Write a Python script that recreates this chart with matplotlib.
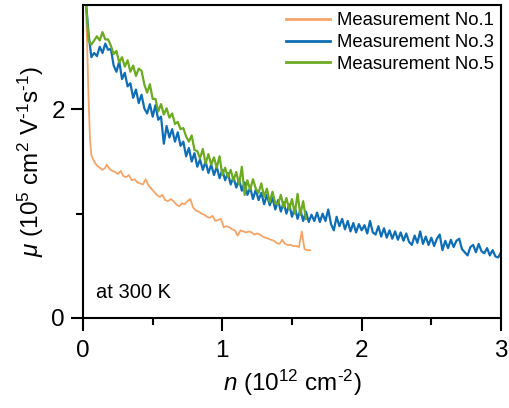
import numpy as np
import matplotlib
matplotlib.use("Agg")
import matplotlib.pyplot as plt
from matplotlib.ticker import FixedLocator

plt.rcParams['font.family'] = ['Liberation Sans', 'DejaVu Sans']
plt.rcParams['mathtext.fontset'] = 'custom'
plt.rcParams['mathtext.rm'] = 'Liberation Sans'
plt.rcParams['mathtext.it'] = 'Liberation Sans:italic'

# ---- data ----
labels = ["Measurement No.1", "Measurement No.3", "Measurement No.5"]
colors = ["#F5A467", "#0E6EB5", "#6CAA22"]

# Measurement No.1 (orange)
n1 = [0.02, 0.03, 0.04, 0.05, 0.06, 0.08, 0.10, 0.12, 0.14, 0.16, 0.17, 0.19,
      0.21, 0.23, 0.25, 0.27, 0.29, 0.31, 0.33, 0.35, 0.37, 0.39, 0.41, 0.43,
      0.45, 0.47, 0.49, 0.51, 0.53, 0.55, 0.57, 0.59, 0.61, 0.63, 0.65, 0.67,
      0.69, 0.71, 0.73, 0.75, 0.77, 0.79, 0.81, 0.83, 0.85, 0.87, 0.89, 0.91,
      0.93, 0.95, 0.97, 0.99, 1.01, 1.03, 1.05, 1.07, 1.09, 1.11, 1.13, 1.15,
      1.17, 1.19, 1.21, 1.23, 1.25, 1.27, 1.29, 1.31, 1.33, 1.35, 1.37, 1.39,
      1.41, 1.43, 1.45, 1.47, 1.49, 1.51, 1.53, 1.55, 1.57, 1.59, 1.61, 1.63]
mu1 = [3.05, 2.60, 2.10, 1.72, 1.56, 1.50, 1.46, 1.44, 1.42, 1.44, 1.47, 1.43,
       1.41, 1.40, 1.38, 1.41, 1.36, 1.35, 1.37, 1.32, 1.33, 1.30, 1.29, 1.28,
       1.33, 1.27, 1.24, 1.21, 1.18, 1.16, 1.18, 1.13, 1.12, 1.14, 1.12, 1.09,
       1.07, 1.10, 1.09, 1.12, 1.14, 1.06, 1.03, 1.02, 1.00, 0.99, 0.97, 0.96,
       0.98, 0.93, 0.94, 0.95, 0.87, 0.88, 0.87, 0.85, 0.84, 0.79, 0.84, 0.83,
       0.82, 0.83, 0.82, 0.80, 0.81, 0.80, 0.78, 0.77, 0.76, 0.75, 0.74, 0.72,
       0.71, 0.75, 0.71, 0.70, 0.70, 0.69, 0.69, 0.68, 0.83, 0.66, 0.65, 0.65]

# Measurement No.3 (blue), sampled every 0.02 from 0.02 to 3.00
n3_start, n3_stop = 0.02, 3.00
mu3 = [3.05, 2.72, 2.50, 2.54, 2.51, 2.60, 2.54, 2.63, 2.57, 2.58,
       2.42, 2.36, 2.46, 2.29, 2.35, 2.22, 2.25, 2.11, 2.19, 2.06,
       2.14, 2.01, 1.96, 2.05, 1.93, 2.04, 1.90, 1.93, 1.67, 1.84,
       1.73, 1.81, 1.69, 1.78, 1.65, 1.69, 1.55, 1.63, 1.50, 1.58,
       1.45, 1.52, 1.42, 1.50, 1.39, 1.47, 1.37, 1.45, 1.34, 1.42,
       1.32, 1.39, 1.28, 1.35, 1.25, 1.33, 1.22, 1.30, 1.18, 1.25,
       1.14, 1.23, 1.13, 1.20, 1.09, 1.18, 1.08, 1.15, 1.04, 1.13,
       1.02, 1.11, 1.00, 1.09, 0.97, 1.06, 0.95, 1.04, 0.93, 1.02,
       0.92, 0.99, 0.93, 1.01, 0.92, 1.00, 0.93, 1.04, 0.90, 0.84,
       0.97, 0.88, 0.95, 0.85, 0.93, 0.83, 0.91, 0.82, 0.90, 0.84,
       0.89, 0.81, 0.93, 0.82, 0.80, 0.88, 0.78, 0.86, 0.77, 0.84,
       0.76, 0.83, 0.75, 0.82, 0.74, 0.81, 0.73, 0.70, 0.79, 0.72,
       0.83, 0.71, 0.78, 0.70, 0.77, 0.69, 0.76, 0.80, 0.65, 0.74,
       0.67, 0.75, 0.68, 0.74, 0.76, 0.66, 0.63, 0.60, 0.68, 0.70,
       0.63, 0.71, 0.64, 0.62, 0.67, 0.60, 0.65, 0.59, 0.58, 0.63]

# Measurement No.5 (green), sampled every 0.02 from 0.02 to 1.60
n5_start, n5_stop = 0.02, 1.60
mu5 = [3.05, 2.66, 2.62, 2.66, 2.70, 2.66, 2.74, 2.67, 2.67, 2.61,
       2.53, 2.56, 2.45, 2.50, 2.41, 2.47, 2.36, 2.42, 2.32, 2.39,
       2.37, 2.24, 2.16, 2.24, 2.10, 2.10, 1.98, 2.05, 1.95, 2.01,
       1.92, 1.96, 1.86, 1.88, 1.81, 1.82, 1.74, 1.69, 1.75, 1.61,
       1.60, 1.53, 1.62, 1.48, 1.57, 1.47, 1.54, 1.44, 1.55, 1.37,
       1.44, 1.35, 1.42, 1.32, 1.40, 1.28, 1.45, 1.18, 1.32, 1.23,
       1.33, 1.24, 1.20, 1.29, 1.16, 1.24, 1.11, 1.21, 1.10, 1.09,
       1.18, 1.06, 1.15, 1.04, 1.14, 1.00, 1.19, 0.99, 1.12, 0.95]

n3 = np.linspace(n3_start, n3_stop, len(mu3))
n5 = np.linspace(n5_start, n5_stop, len(mu5))

x_major = [0, 1, 2, 3]
x_minor = [0.5, 1.5, 2.5]
y_major = [0, 2]
y_minor = [1]

# ---- figure ----
fig = plt.figure(figsize=(5.09, 4.08), dpi=100)
ax = fig.add_axes([83/509, 1-318/408, (501-83)/509, (318-5)/408])

ax.plot(n1, mu1, color=colors[0], lw=1.3, label=labels[0])
ax.plot(n3, mu3, color=colors[1], lw=1.6, label=labels[1])
ax.plot(n5, mu5, color=colors[2], lw=1.6, label=labels[2])

ax.set_xlim(0, 3)
ax.set_ylim(0, 3)
ax.xaxis.set_major_locator(FixedLocator(x_major))
ax.xaxis.set_minor_locator(FixedLocator(x_minor))
ax.yaxis.set_major_locator(FixedLocator(y_major))
ax.yaxis.set_minor_locator(FixedLocator(y_minor))
ax.tick_params(which='major', direction='out', length=9, width=1.5,
               labelsize=17.5)
ax.tick_params(which='minor', direction='out', length=5, width=1.5)
ax.tick_params(axis='x', which='major', pad=7)
ax.tick_params(axis='y', which='major', pad=4)
for s in ax.spines.values():
    s.set_linewidth(1.5)

ax.set_xlabel(r'$n$ (10$^{12}$ cm$^{\text{-}2}$)', fontsize=17.5, labelpad=4)
ax.set_ylabel(r'$\mu$ (10$^{5}$ cm$^{2}$ V$^{\text{-}1}$s$^{\text{-}1}$)',
              fontsize=17.5, labelpad=4)

ax.text(0.031, 0.065, 'at 300 K', transform=ax.transAxes, fontsize=14.5,
        ha='left', va='baseline')

leg = ax.legend(loc='upper right', frameon=False, fontsize=13.3,
                handlelength=2.4, handletextpad=0.35, labelspacing=0.25,
                borderaxespad=0.2, borderpad=0.2)
for h in leg.get_lines():
    h.set_linewidth(2)

fig.savefig('out.png', dpi=100)
